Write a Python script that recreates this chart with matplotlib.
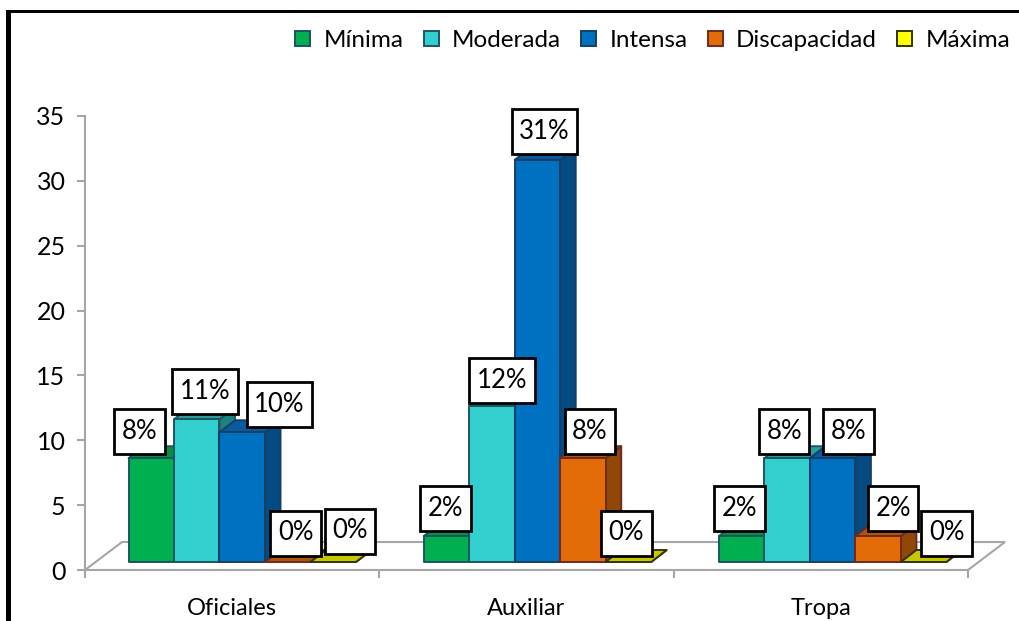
import numpy as np
import matplotlib.pyplot as plt
from matplotlib.patches import Polygon, Patch, Rectangle
from matplotlib.path import Path

plt.rcParams['font.family'] = ['Lato', 'DejaVu Sans']

# ================== data ==================
categories = ['Oficiales', 'Auxiliar', 'Tropa']
series_names = ['Mínima', 'Moderada', 'Intensa', 'Discapacidad', 'Máxima']
minima = [8, 2, 2]
moderada = [11, 12, 8]
intensa = [10, 31, 8]
discapacidad = [0, 8, 2]
maxima = [0, 0, 0]
y_ticks = [0, 5, 10, 15, 20, 25, 30, 35]

# ================== styles ==================
front_colors = ['#00B050', '#33CFCF', '#0070C0', '#E36C09', '#FFFF00']
top_colors = ['#068F44', '#2A9E9E', '#0A5AA0', '#B0560A', '#C8C800']
side_colors = ['#057A3A', '#1F8080', '#054A80', '#904808', '#A0A000']
edge_colors = ['#1B5560', '#1F5560', '#173F66', '#6E2A20', '#33330A']
grey = '#A6A6A6'

W, H = 1019, 621
ax_left, ax_right, ax_bottom, ax_top = 85, 968, 570, 116
px_x = 3 / (ax_right - ax_left)       # one pixel in x data units
px_y = 35 / (ax_bottom - ax_top)      # one pixel in y data units

bar_w = 45.5 * px_x
group_start = 43.5 * px_x
group_step = 295.2 * px_x
base = 8 * px_y
depth_x, depth_y = 15.5 * px_x, 12 * px_y
floor_x, floor_y = 37 * px_x, 28 * px_y

# label offset from the bar's top centre, in pixels
label_dx = [[-12, 8, 37, 8, 17],
            [-1, 10, 7, 7, -2],
            [-2, -3, 16, 15, 23]]
label_dy = [[27, 28, 28, 29, 31],
            [28, 26, 28, 27, 29],
            [28, 27, 27, 28, 29]]


def label_box(x0, y0, w, h, mutation_size):
    # white box round a value label, more padding above and below than at the sides
    pad_x, pad_y = 7.5, 10
    x = [x0 - pad_x, x0 + w + pad_x, x0 + w + pad_x, x0 - pad_x, x0 - pad_x]
    y = [y0 - pad_y, y0 - pad_y, y0 + h + pad_y, y0 + h + pad_y, y0 - pad_y]
    return Path(np.column_stack([x, y]), closed=True)


fig = plt.figure(figsize=(W / 100, H / 100), dpi=100)
ax = fig.add_axes([ax_left / W, 1 - ax_bottom / H,
                   (ax_right - ax_left) / W, (ax_bottom - ax_top) / H])
ax.set_xlim(0, 3)
ax.set_ylim(0, 35)

# outer frame: only the top and left edges are there
fig.add_artist(Rectangle((6 / W, 0), 5 / W, 1 - 10 / H, transform=fig.transFigure,
                         facecolor='black', edgecolor='none'))
fig.add_artist(Rectangle((6 / W, 1 - 13 / H), 1 - 6 / W, 3 / H, transform=fig.transFigure,
                         facecolor='black', edgecolor='none'))

# axes
for side in ['top', 'right']:
    ax.spines[side].set_visible(False)
for side in ['left', 'bottom']:
    ax.spines[side].set_color(grey)
    ax.spines[side].set_linewidth(1.5)
ax.set_yticks(y_ticks)
ax.set_xticks([0, 1, 2, 3])
ax.set_xticklabels([])
ax.set_xticks([0.5, 1.5, 2.5], minor=True)
ax.set_xticklabels(categories, minor=True, fontsize=17)
ax.tick_params(axis='x', which='major', length=6, width=1.5, color=grey)
ax.tick_params(axis='x', which='minor', length=0, pad=20)
ax.tick_params(axis='y', length=6, width=1.5, color=grey, labelsize=18, pad=8)

# floor of the 3D box
floor = Polygon([(0, 0), (floor_x, floor_y), (3 + floor_x, floor_y), (3, 0)],
                closed=False, fill=False, edgecolor=grey, linewidth=1.5,
                clip_on=False, zorder=1)
ax.add_patch(floor)

all_series = [minima, moderada, intensa, discapacidad, maxima]
for c in range(len(categories)):
    for s, values in enumerate(all_series):
        v = values[c]
        x0 = group_start + c * group_step + s * bar_w
        x1 = x0 + bar_w
        top = base + v
        z = 3 + s * 0.1
        style = dict(edgecolor=edge_colors[s], linewidth=1.4, clip_on=False,
                     joinstyle='round', zorder=z)
        # side face, top face, front face
        ax.add_patch(Polygon([(x1, base), (x1 + depth_x, base + depth_y),
                              (x1 + depth_x, top + depth_y), (x1, top)],
                             facecolor=side_colors[s], **style))
        ax.add_patch(Polygon([(x0, top), (x0 + depth_x, top + depth_y),
                              (x1 + depth_x, top + depth_y), (x1, top)],
                             facecolor=top_colors[s], **style))
        if v > 0:
            ax.add_patch(Rectangle((x0, base), bar_w, v,
                                   facecolor=front_colors[s], **style))
        # value label
        ax.annotate(f'{v}%', xy=((x0 + x1) / 2, top),
                    xytext=(label_dx[c][s], label_dy[c][s]),
                    textcoords='offset pixels', ha='center', va='center',
                    fontsize=18.5, zorder=10,
                    bbox=dict(boxstyle=label_box, facecolor='white',
                              edgecolor='black', linewidth=2))

# legend
handles = [Patch(facecolor=front_colors[i], edgecolor=edge_colors[i], linewidth=1.4)
           for i in range(5)]
fig.legend(handles, series_names, ncol=5, loc='upper right', frameon=False,
           bbox_to_anchor=(1010 / W, 1 - 30 / H), fontsize=17.5,
           handlelength=0.62, handleheight=0.62, handletextpad=0.55,
           columnspacing=0.82, borderpad=0, borderaxespad=0)

fig.savefig('out.png', dpi=100)
